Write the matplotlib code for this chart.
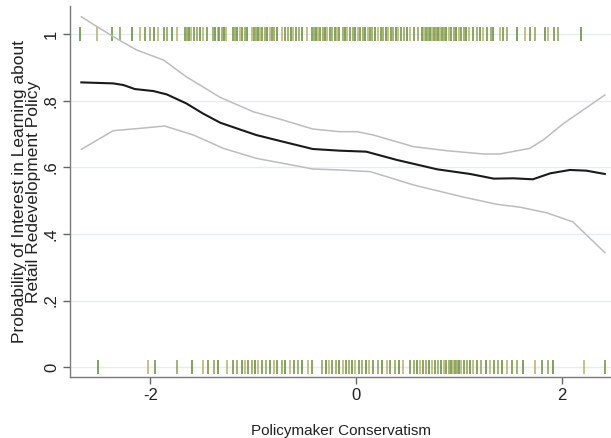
import matplotlib
matplotlib.use("Agg")
import matplotlib.pyplot as plt

plt.rcParams['font.family'] = ['Liberation Sans', 'DejaVu Sans']
plt.rcParams['axes.unicode_minus'] = False

# =========================
# Data
# =========================
x_fit = [-2.67, -2.36, -2.26, -2.15, -1.97, -1.84, -1.65, -1.49, -1.32, -1.16,
         -0.97, -0.71, -0.42, -0.16, 0.10, 0.40, 0.79, 1.11, 1.34, 1.53,
         1.72, 1.89, 2.08, 2.24, 2.42]
y_fit = [0.855, 0.852, 0.847, 0.835, 0.829, 0.819, 0.792, 0.762, 0.734, 0.717,
         0.697, 0.677, 0.655, 0.650, 0.647, 0.622, 0.594, 0.580, 0.566, 0.567,
         0.564, 0.582, 0.592, 0.590, 0.580]

x_upper = [-2.67, -2.49, -2.33, -2.13, -1.87, -1.65, -1.32, -1.00, -0.71, -0.42,
           -0.16, 0.01, 0.17, 0.56, 0.88, 1.24, 1.40, 1.69, 1.82, 2.02, 2.42]
y_upper = [1.052, 1.017, 0.987, 0.952, 0.922, 0.872, 0.810, 0.767, 0.742, 0.715,
           0.707, 0.707, 0.697, 0.662, 0.650, 0.640, 0.640, 0.657, 0.682, 0.732, 0.817]

x_lower = [-2.67, -2.36, -2.10, -1.86, -1.58, -1.29, -0.97, -0.71, -0.42, -0.16,
           0.14, 0.56, 1.04, 1.37, 1.60, 1.86, 2.11, 2.42]
y_lower = [0.654, 0.710, 0.717, 0.724, 0.697, 0.657, 0.627, 0.612, 0.595, 0.592,
           0.587, 0.547, 0.511, 0.489, 0.480, 0.463, 0.436, 0.344]

# observations with outcome = 1 (top rug)
rug_one = [-2.68, -2.52, -2.37, -2.29, -2.18, -2.10, -2.05, -2.00, -1.96, -1.92,
           -1.87, -1.84, -1.79, -1.74, -1.66, -1.64, -1.62, -1.60, -1.57, -1.55,
           -1.52, -1.49, -1.45, -1.39, -1.37, -1.34, -1.33, -1.30, -1.28, -1.26,
           -1.20, -1.18, -1.16, -1.13, -1.11, -1.08, -1.06, -1.01, -0.99, -0.97,
           -0.95, -0.93, -0.91, -0.88, -0.86, -0.84, -0.82, -0.80, -0.77, -0.72,
           -0.69, -0.66, -0.63, -0.61, -0.58, -0.55, -0.52, -0.48, -0.43, -0.41,
           -0.39, -0.37, -0.35, -0.32, -0.30, -0.28, -0.25, -0.23, -0.20, -0.18,
           -0.16, -0.13, -0.11, -0.09, -0.06, -0.03, -0.01, 0.02, 0.04, 0.07,
           0.09, 0.12, 0.14, 0.16, 0.19, 0.21, 0.24, 0.26, 0.29, 0.31,
           0.34, 0.36, 0.39, 0.41, 0.44, 0.47, 0.50, 0.53, 0.56, 0.60,
           0.64, 0.66, 0.68, 0.70, 0.72, 0.74, 0.76, 0.78, 0.80, 0.82,
           0.84, 0.86, 0.88, 0.90, 0.92, 0.95, 0.97, 1.00, 1.02, 1.05,
           1.07, 1.10, 1.14, 1.18, 1.21, 1.24, 1.27, 1.31, 1.33, 1.40,
           1.43, 1.47, 1.57, 1.64, 1.69, 1.74, 1.84, 1.87, 1.93, 1.96, 2.19]

# observations with outcome = 0 (bottom rug)
rug_zero = [-2.51, -2.02, -1.95, -1.74, -1.59, -1.49, -1.44, -1.38, -1.34, -1.25,
            -1.20, -1.16, -1.11, -1.08, -1.05, -1.01, -0.98, -0.95, -0.91, -0.87,
            -0.84, -0.80, -0.77, -0.72, -0.69, -0.64, -0.60, -0.56, -0.52, -0.47,
            -0.43, -0.33, -0.29, -0.26, -0.23, -0.19, -0.16, -0.13, -0.10, -0.07,
            -0.04, -0.01, 0.03, 0.06, 0.10, 0.13, 0.17, 0.21, 0.25, 0.30,
            0.33, 0.38, 0.42, 0.46, 0.53, 0.56, 0.59, 0.62, 0.65, 0.68,
            0.71, 0.74, 0.77, 0.80, 0.83, 0.86, 0.88, 0.90, 0.92, 0.94,
            0.96, 0.98, 1.00, 1.02, 1.05, 1.08, 1.11, 1.14, 1.18, 1.22,
            1.26, 1.30, 1.34, 1.38, 1.42, 1.47, 1.52, 1.57, 1.62, 1.74,
            1.81, 1.87, 1.92, 2.22, 2.42]

y_ticks = [0, 0.2, 0.4, 0.6, 0.8, 1]
y_ticklabels = ['0', '.2', '.4', '.6', '.8', '1']
x_ticks = [-2, 0, 2]

rug_colors = ['#5b8a2c', '#b5b066', '#6a9230', '#8aa050']

# =========================
# Figure
# =========================
fig = plt.figure(figsize=(6.11, 4.38), dpi=100)
ax = fig.add_axes([0.1146, 0.139, 0.8854, 0.847])

for yv in y_ticks:
    ax.axhline(yv, color='#e4eef0', linewidth=1.0, zorder=0)

# rugs
for i, xv in enumerate(rug_one):
    ax.vlines(xv, 0.98, 1.02, color=rug_colors[i % len(rug_colors)], linewidth=1.1, zorder=2)
for i, xv in enumerate(rug_zero):
    ax.vlines(xv, -0.02, 0.02, color=rug_colors[i % len(rug_colors)], linewidth=1.1, zorder=2)

# confidence band and fit
ax.plot(x_upper, y_upper, color='#bdbdbd', linewidth=1.1, zorder=3)
ax.plot(x_lower, y_lower, color='#bdbdbd', linewidth=1.1, zorder=3)
ax.plot(x_fit, y_fit, color='#1a1a1a', linewidth=1.5, zorder=4)

ax.set_xlim(-2.78, 2.48)
ax.set_ylim(-0.03, 1.084)

ax.set_yticks(y_ticks)
ax.set_yticklabels(y_ticklabels, rotation=90, va='center')
ax.set_xticks(x_ticks)
ax.tick_params(axis='both', colors='#666666', labelcolor='#222222',
               labelsize=12, length=5, width=1, direction='out')
ax.tick_params(axis='x', pad=3)
ax.tick_params(axis='y', pad=3)

for side in ['top', 'right']:
    ax.spines[side].set_visible(False)
for side in ['left', 'bottom']:
    ax.spines[side].set_color('#7a7a7a')
    ax.spines[side].set_linewidth(1.0)

ax.set_xlabel('Policymaker Conservatism', fontsize=11, color='#222222', labelpad=15)
ax.set_ylabel('Probability of Interest in Learning about\nRetail Redevelopment Policy',
              fontsize=12.5, color='#222222', labelpad=2, linespacing=0.9)

fig.savefig('out.png', dpi=100)
